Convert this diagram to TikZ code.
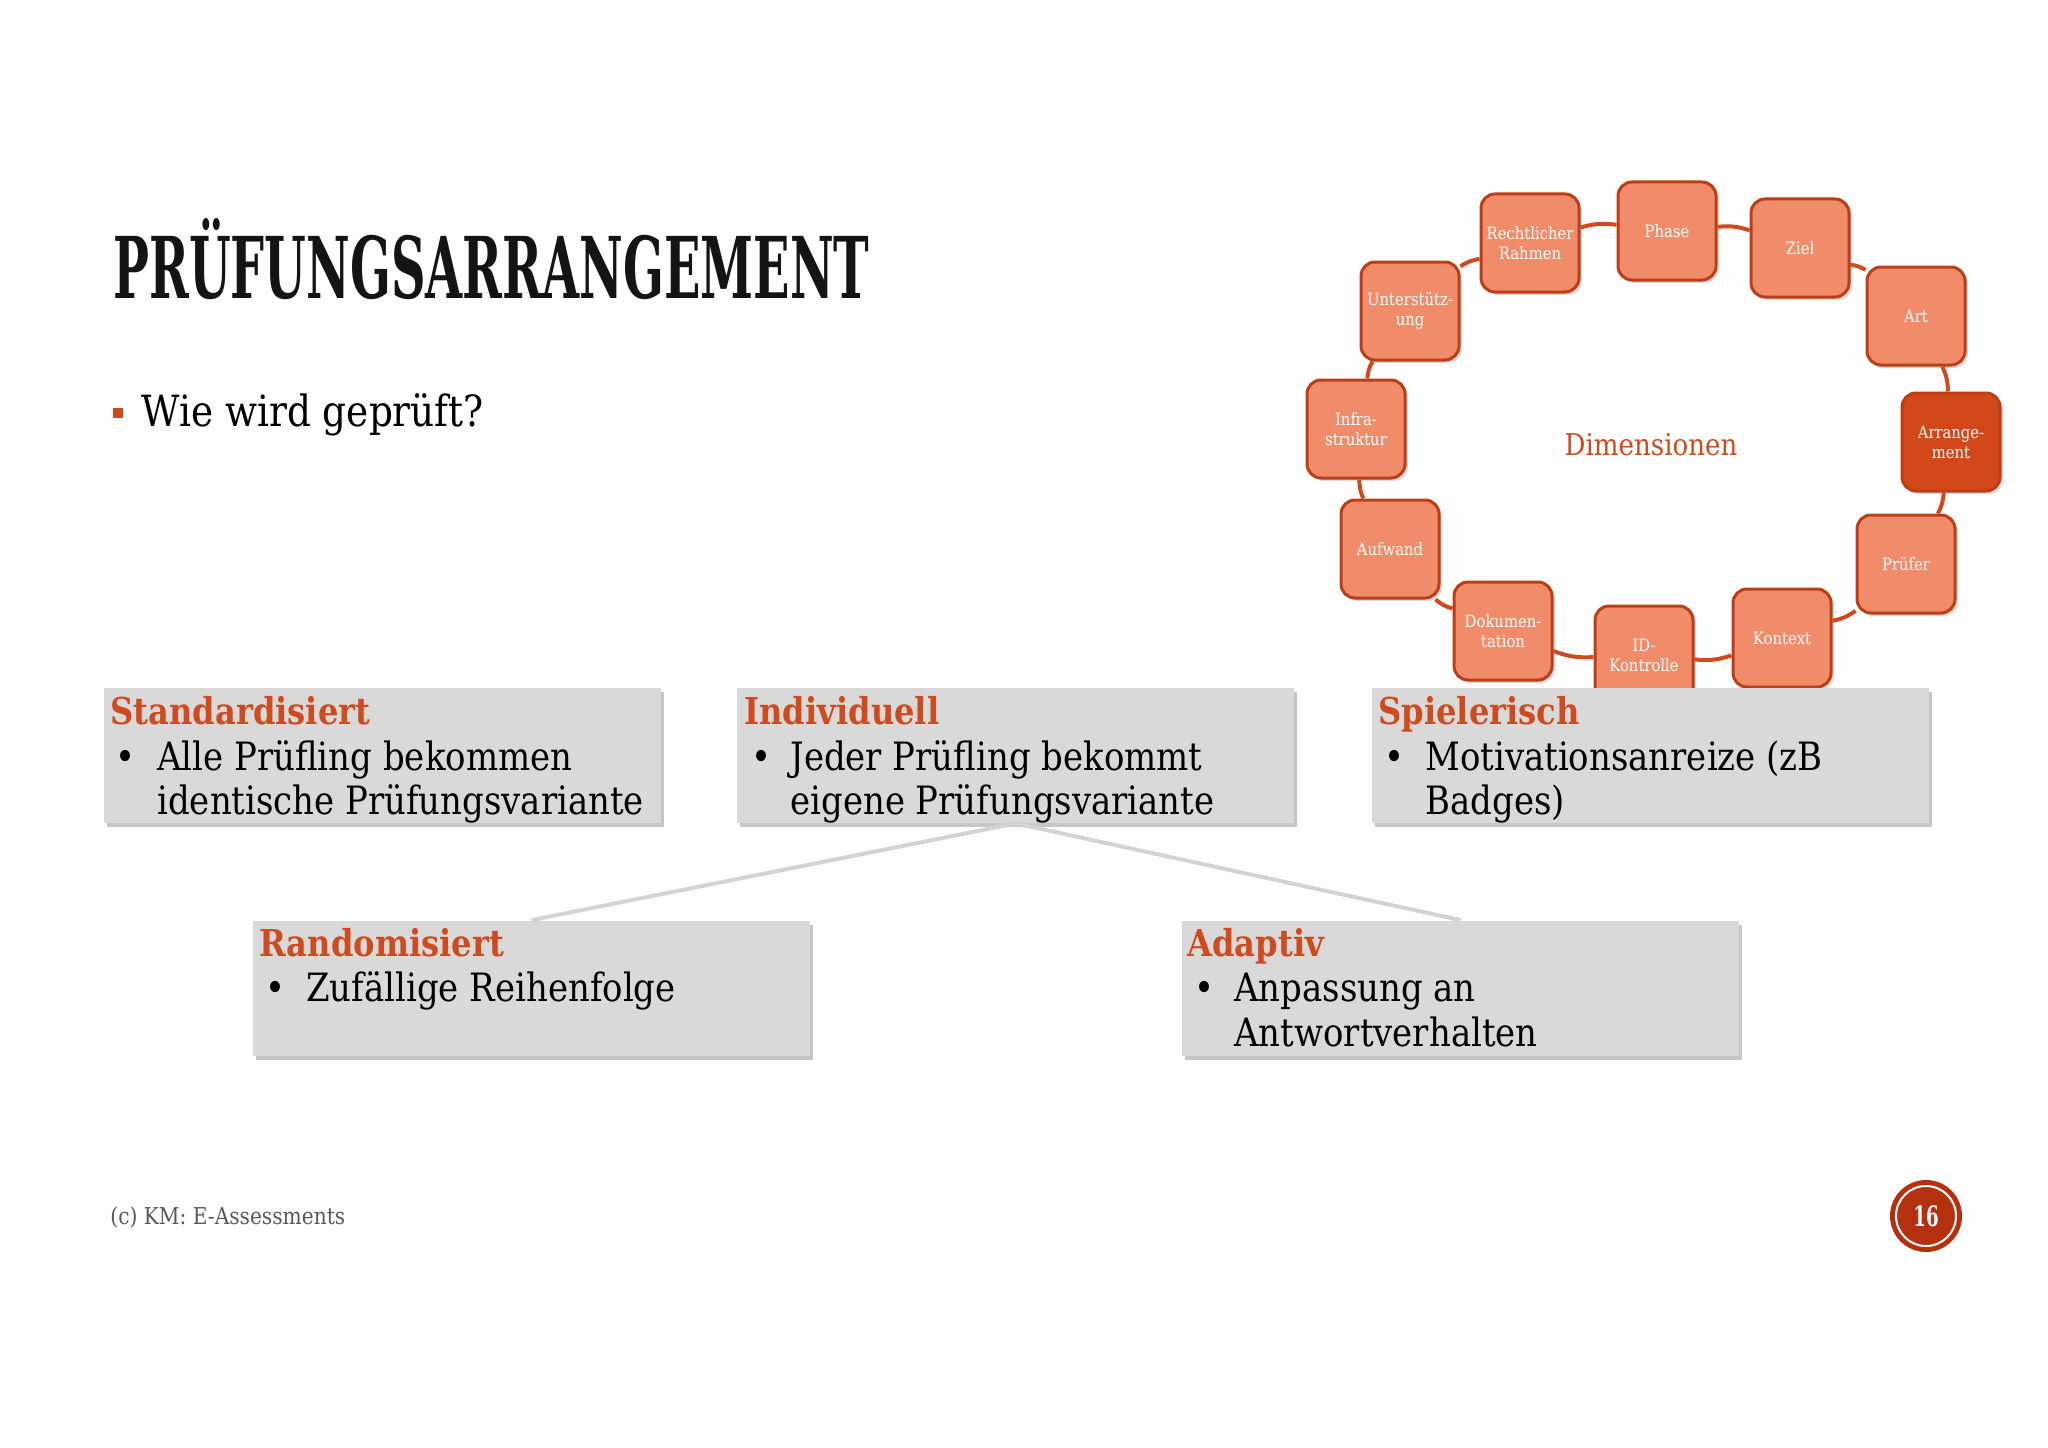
\documentclass[tikz,border=0pt]{standalone}
\usepackage{fontspec}
\setmainfont{DejaVu Serif}[FakeStretch=0.87]
\usepackage{graphicx}
\usetikzlibrary{shadows}
\definecolor{accent}{RGB}{207,74,30}
\definecolor{cyclefill}{RGB}{240,140,106}
\definecolor{cycledraw}{RGB}{188,62,22}
\definecolor{armfill}{RGB}{210,72,26}
\definecolor{boxfill}{RGB}{217,217,217}
\definecolor{linegray}{RGB}{212,210,210}
\definecolor{footgray}{RGB}{89,89,89}
\definecolor{pagered}{RGB}{181,48,14}
\begin{document}
\begin{tikzpicture}[x=0.5bp,y=-0.5bp,
  dim/.style={draw=cycledraw, line width=1.5bp, fill=cyclefill, rounded corners=7bp,
    minimum width=49bp, minimum height=49bp, inner sep=0pt, text=white, align=center,
    font=\fontsize{8.5bp}{10bp}\selectfont,
    drop shadow={shadow xshift=1.5bp, shadow yshift=-1.5bp, opacity=0.3}},
  dimlink/.style={draw=accent, line width=2bp},
  infobox/.style={fill=boxfill, minimum width=278.5bp, minimum height=67.5bp, inner sep=0pt,
    drop shadow={shadow xshift=1.5bp, shadow yshift=-2bp, opacity=0.45}},
  treelink/.style={draw=linegray, line width=2bp},
  boxhead/.style={anchor=base west, inner sep=0pt, text=accent, font=\fontsize{18.5bp}{20bp}\selectfont\bfseries},
  boxtext/.style={anchor=base west, inner sep=0pt, font=\fontsize{19.5bp}{22bp}\selectfont},
]
\useasboundingbox (0,0) rectangle (2048,1447);

% title
\node[anchor=base west, inner sep=0pt, text=black!92] (title) at (113,298)
  {\resizebox{378bp}{40bp}{\bfseries PRÜFUNGSARRANGEMENT}};
\node[fill=accent, minimum size=5bp, inner sep=0pt] (sq) at (118,413) {};
\node[anchor=base west, inner sep=0pt, font=\fontsize{21.5bp}{24bp}\selectfont] (q) at (141,426) {Wie wird geprüft?};

% cycle
\node[dim] (phase) at (1667,231) {Phase};
\node[dim] (ziel) at (1800,248) {Ziel};
\node[dim] (art) at (1916,316) {Art};
\node[dim, fill=armfill] (arr) at (1951,442) {Arrange-\\ment};
\node[dim] (pruefer) at (1906,564) {Prüfer};
\node[dim] (kontext) at (1782,638) {Kontext};
\node[dim] (idk) at (1644,655) {ID-\\Kontrolle};
\node[dim] (doku) at (1503,631) {Dokumen-\\tation};
\node[dim] (aufwand) at (1390,549) {Aufwand};
\node[dim] (infra) at (1356,429) {Infra-\\struktur};
\node[dim] (unter) at (1410,311) {Unterstütz-\\ung};
\node[dim] (recht) at (1530,243) {Rechtlicher\\Rahmen};
\node[text=accent, font=\fontsize{15bp}{18bp}\selectfont] (dimtext) at (1651,445) {Dimensionen};

\draw[dimlink] (phase) to[bend left=12] (ziel);
\draw[dimlink] (ziel) to[bend left=12] (art);
\draw[dimlink] (art) to[bend left=12] (arr);
\draw[dimlink] (arr) to[bend left=12] (pruefer);
\draw[dimlink] (pruefer) to[bend left=12] (kontext);
\draw[dimlink] (kontext) to[bend left=12] (idk);
\draw[dimlink] (idk) to[bend left=12] (doku);
\draw[dimlink] (doku) to[bend left=12] (aufwand);
\draw[dimlink] (aufwand) to[bend left=12] (infra);
\draw[dimlink] (infra) to[bend left=12] (unter);
\draw[dimlink] (unter) to[bend left=12] (recht);
\draw[dimlink] (recht) to[bend left=12] (phase);

% boxes
\node[infobox] (std) at (382.5,755.5) {};
\node[infobox] (ind) at (1015.5,755.5) {};
\node[infobox] (spiel) at (1650.5,755.5) {};
\node[infobox] (rand) at (531.5,988) {};
\node[infobox] (adapt) at (1460.5,988) {};

\draw[treelink] (ind.south) -- (rand.north);
\draw[treelink] (ind.south) -- (adapt.north);

\node[boxhead] (stdh) at (110,724) {Standardisiert};
\node[boxtext] (stdb) at (115,770) {•};
\node[boxtext] (std1) at (157,770) {Alle Prüfling bekommen};
\node[boxtext] (std2) at (157,814) {identische Prüfungsvariante};

\node[boxhead] (indh) at (744,724) {Individuell};
\node[boxtext] (indb) at (751,770) {•};
\node[boxtext] (ind1) at (790,770) {Jeder Prüfling bekommt};
\node[boxtext] (ind2) at (790,814) {eigene Prüfungsvariante};

\node[boxhead] (spielh) at (1378,724) {Spielerisch};
\node[boxtext] (spielb) at (1384,770) {•};
\node[boxtext] (spiel1) at (1425,770) {Motivationsanreize (zB};
\node[boxtext] (spiel2) at (1425,814) {Badges)};

\node[boxhead] (randh) at (259,956) {Randomisiert};
\node[boxtext] (randb) at (265,1001) {•};
\node[boxtext] (rand1) at (306,1001) {Zufällige Reihenfolge};

\node[boxhead] (adapth) at (1187,956) {Adaptiv};
\node[boxtext] (adaptb) at (1194,1001) {•};
\node[boxtext] (adapt1) at (1234,1001) {Anpassung an};
\node[boxtext] (adapt2) at (1234,1046) {Antwortverhalten};

% footer
\node[anchor=base west, inner sep=0pt, text=footgray, font=\fontsize{11.6bp}{13bp}\selectfont] (foot) at (110,1224) {(c) KM: E-Assessments};
\node[circle, fill=pagered, minimum size=36bp, inner sep=0pt] (pg) at (1926,1216) {};
\node[circle, draw=white, line width=1bp, minimum size=30bp, inner sep=0pt, text=white,
  font=\fontsize{14bp}{15bp}\selectfont\bfseries] (pgnum) at (pg) {\scalebox{0.75}[1]{16}};
\end{tikzpicture}
\end{document}
